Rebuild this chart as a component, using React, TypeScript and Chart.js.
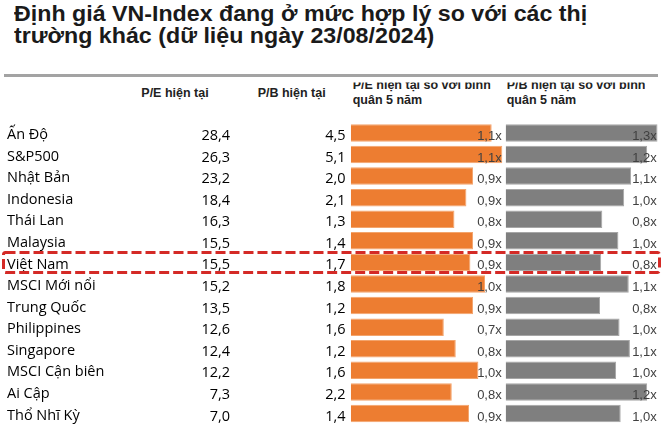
import React, { useEffect, useRef } from "react";
import { Chart, registerables } from "chart.js";

Chart.register(...registerables);

// ---------- data ----------
const countries = [
  "Ấn Độ",
  "S&P500",
  "Nhật Bản",
  "Indonesia",
  "Thái Lan",
  "Malaysia",
  "Việt Nam",
  "MSCI Mới nổi",
  "Trung Quốc",
  "Philippines",
  "Singapore",
  "MSCI Cận biên",
  "Ai Cập",
  "Thổ Nhĩ Kỳ",
];
const peCurrent = [28.4, 26.3, 23.2, 18.4, 16.3, 15.5, 15.5, 15.2, 13.5, 12.6, 12.4, 12.2, 7.3, 7.0];
const pbCurrent = [4.5, 5.1, 2.0, 2.1, 1.3, 1.4, 1.7, 1.8, 1.2, 1.6, 1.2, 1.6, 2.2, 1.4];
const peVs5y = [1.06, 1.14, 0.92, 0.87, 0.78, 0.92, 0.9, 1.01, 0.92, 0.7, 0.79, 0.96, 0.76, 0.89];
const pbVs5y = [1.32, 1.23, 1.09, 1.03, 0.84, 0.98, 0.83, 1.07, 0.82, 0.99, 1.08, 0.96, 1.23, 1.0];
const highlightCountry = "Việt Nam";

const titleLines = [
  "Định giá VN-Index đang ở mức hợp lý so với các thị",
  "trường khác (dữ liệu ngày 23/08/2024)",
];
const headerPE = "P/E hiện tại";
const headerPB = "P/B hiện tại";
const headerPERel = ["P/E hiện tại so với bình", "quân 5 năm"];
const headerPBRel = ["P/B hiện tại so với bình", "quân 5 năm"];

// ---------- layout ----------
const W = 669;
const H = 433;
const PAD_LEFT = 7;
const AREA_LEFT = 350.7;
const AREA_RIGHT = 660;
const AREA_TOP = 122.15;
const ROW_H = 21.7;
const PE_PX = 133;
const PB_ZERO = 505.7;
const PB_PX = 115;

const fmt = (v: number) => v.toFixed(1).replace(".", ",");

const ROW_FONT = '"Open Sans"';

export default function App() {
  const canvasRef = useRef<HTMLCanvasElement | null>(null);

  useEffect(() => {
    const canvas = canvasRef.current;
    if (!canvas) return;
    const areaW = AREA_RIGHT - AREA_LEFT;
    const peMax = areaW / PE_PX;
    const pbMin = -(PB_ZERO - AREA_LEFT) / PB_PX;
    const pbMax = pbMin + areaW / PB_PX;
    const areaBottom = AREA_TOP + ROW_H * countries.length;

    const tablePlugin = {
      id: "tableText",
      afterDatasetsDraw(chart: any) {
        const ctx = chart.ctx as CanvasRenderingContext2D;
        const y = chart.scales.y;
        ctx.save();
        ctx.textBaseline = "alphabetic";
        ctx.textAlign = "right";
        countries.forEach((_, i) => {
          const cy = y.getPixelForValue(i);
          ctx.font = `14.5px ${ROW_FONT}`;
          ctx.fillStyle = "#000";
          ctx.fillText(fmt(peCurrent[i]), 230, cy + 7);
          ctx.fillText(fmt(pbCurrent[i]), 345.5, cy + 7);
          ctx.font = '13px "Liberation Sans"';
          ctx.fillStyle = "#404040";
          ctx.fillText(fmt(peVs5y[i]) + "x", 501.7, cy + 7);
          ctx.fillText(fmt(pbVs5y[i]) + "x", 656.7, cy + 7);
        });
        const hi = countries.indexOf(highlightCountry);
        if (hi >= 0) {
          const hc = y.getPixelForValue(hi);
          ctx.strokeStyle = "#D42A26";
          ctx.lineWidth = 3;
          ctx.setLineDash([10, 4]);
          ctx.beginPath();
          (ctx as any).roundRect(3.5, hc - 10, 656, 20, 2);
          ctx.stroke();
        }
        ctx.restore();
      },
    };

    const chart = new Chart(canvas, {
      type: "bar",
      data: {
        labels: countries,
        datasets: [
          {
            label: "P/E hiện tại so với bình quân 5 năm",
            data: peVs5y,
            xAxisID: "xPE",
            backgroundColor: "#ED7D31",
            borderColor: "#F3A46C",
            borderWidth: 1,
            grouped: false,
            barPercentage: 1,
            categoryPercentage: 0.81,
          } as any,
          {
            label: "P/B hiện tại so với bình quân 5 năm",
            data: pbVs5y,
            xAxisID: "xPB",
            backgroundColor: "#7F7F7F",
            borderColor: "#A6A6A6",
            borderWidth: 1,
            grouped: false,
            barPercentage: 1,
            categoryPercentage: 0.81,
          } as any,
        ],
      },
      options: {
        indexAxis: "y",
        animation: false,
        responsive: true,
        maintainAspectRatio: false,
        layout: {
          padding: {
            left: PAD_LEFT,
            right: W - AREA_RIGHT,
            top: AREA_TOP,
            bottom: H - areaBottom,
          },
        },
        plugins: {
          legend: { display: false },
          tooltip: { enabled: false },
        },
        scales: {
          y: {
            type: "category",
            grid: { display: false },
            border: { display: false },
            ticks: {
              crossAlign: "far",
              padding: 0,
              labelOffset: 2,
              color: "#000",
              font: { family: ROW_FONT, size: 14.5 },
              autoSkip: false,
            },
            afterFit: (s: any) => {
              s.width = AREA_LEFT - PAD_LEFT;
            },
          },
          xPE: {
            type: "linear",
            axis: "x",
            position: "bottom",
            display: false,
            min: 0,
            max: peMax,
          },
          xPB: {
            type: "linear",
            axis: "x",
            position: "bottom",
            display: false,
            min: pbMin,
            max: pbMax,
          },
        } as any,
      },
      plugins: [tablePlugin],
    });
    return () => chart.destroy();
  }, []);

  const titleStyle: React.CSSProperties = {
    position: "absolute",
    left: 13.5,
    top: 3.3,
    fontFamily: '"Liberation Sans", Arial, sans-serif',
    fontWeight: 700,
    fontSize: 22,
    lineHeight: "21.6px",
    color: "#1a1a1a",
    whiteSpace: "nowrap",
    transform: "scaleX(1.055)",
    transformOrigin: "left top",
  };
  const hdr: React.CSSProperties = {
    position: "absolute",
    fontFamily: '"Liberation Sans", Arial, sans-serif',
    fontWeight: 700,
    fontSize: 12.5,
    lineHeight: "15px",
    color: "#222",
    whiteSpace: "nowrap",
  };

  return (
    <div style={{ position: "absolute", left: 0, top: 0, width: W, height: H, background: "#fff", overflow: "hidden" }}>
      <div style={titleStyle}>
        {titleLines[0]}
        <br />
        {titleLines[1]}
      </div>
      <div style={{ position: "absolute", left: 4, top: 74, width: 654, height: 2.5, background: "#a3a3a3" }} />
      <div style={{ ...hdr, left: 115, top: 85.9, width: 120, textAlign: "center" }}>{headerPE}</div>
      <div style={{ ...hdr, left: 231.7, top: 85.9, width: 120, textAlign: "center" }}>{headerPB}</div>
      <div style={{ ...hdr, left: 352.7, top: 78.2, clipPath: "inset(4.3px 0 0 0)" }}>
        {headerPERel[0]}
        <br />
        {headerPERel[1]}
      </div>
      <div style={{ ...hdr, left: 506.7, top: 78.2, clipPath: "inset(4.3px 0 0 0)" }}>
        {headerPBRel[0]}
        <br />
        {headerPBRel[1]}
      </div>
      <div style={{ position: "absolute", left: 0, top: 0, width: W, height: H }}>
        <canvas ref={canvasRef} />
      </div>
    </div>
  );
}
